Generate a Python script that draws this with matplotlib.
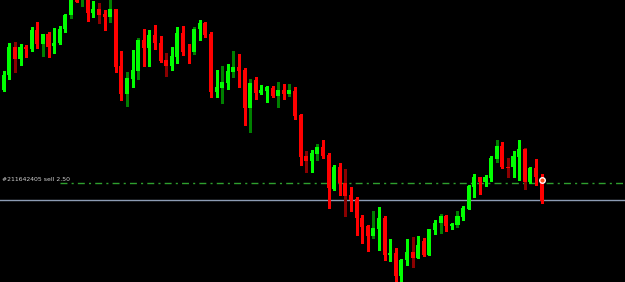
import numpy as np
import matplotlib
matplotlib.use("Agg")
import matplotlib.pyplot as plt

plt.rcParams["lines.scale_dashes"] = False

# candle values (price axis points down, like screen pixels)
opens = [90, 75, 47.3, 59, 47, 49, 30, 44, 34, 46, 43.3, 29.3, 15.3, -8, -3, -6, 12.7, 9, 14, 17.3,
         9, 65.7, 93.7, 79, 70.7, 40.3, 47.7, 35, 42.7, 60, 65.7, 56.7, 33.3, 51.5, 52.3, 29.3, 23, 34, 91.7, 87.7,
         83, 72, 67, 70.3, 107.7, 79.7, 93.3, 91, 88, 95.7, 90, 94, 90.7, 114.7, 156, 160.7, 154, 146.7, 155, 189,
         167.3, 183.3, 195, 199, 218.3, 226, 236, 229.3, 218.3, 255, 253, 276, 260, 252.3, 257.7, 241, 255, 230, 223.3, 215.7,
         226, 225, 216.7, 209, 186.7, 177.3, 181.7, 177.7, 159, 146, 167, 167.3, 156.7, 149, 181.7, 167.7, 177.7]
closes = [74.7, 47, 59.3, 47, 49, 30, 44, 33.7, 46.7, 42.7, 29, 15, -2, 1.7, -10, 12.7, 9, 15, 17.3, 9,
          66.7, 93.7, 78, 70, 40, 47.7, 35, 42.7, 61, 65.7, 56, 33.3, 52, 52, 29, 23.3, 35, 91.7, 87, 82.3,
          71, 67, 71, 107.7, 82.7, 93.3, 90, 87, 95.7, 90, 94, 90, 116, 156.7, 160.7, 153.3, 146.7, 155.7, 188.3, 167.3,
          183.3, 195.7, 200, 218.3, 226.7, 236, 227.7, 217.7, 255, 253, 276, 260, 252.3, 257.7, 245, 255, 229.3, 222.7, 215.7, 225.7,
          224, 216, 207.7, 185.7, 176.7, 181.7, 177.3, 158.3, 145.7, 167.3, 167.5, 156, 149, 181.7, 167.7, 177.3, 201]
highs = [71, 43, 42, 44, 45, 27.3, 22, 33.5, 32, 28, 26, 14, -5, -10, -12, -8, 1.3, 2.7, 10, -2,
         9, 51, 72, 50, 38.3, 28.7, 30, 25, 36, 53.3, 46.7, 27, 26, 44, 26.7, 20, 22, 31.7, 70.3, 66,
         64, 51, 54.3, 68, 79.3, 77.3, 85.3, 86, 86.3, 82, 84, 84, 86.7, 114, 151, 150, 144.3, 140, 153.3, 165,
         163.3, 169.3, 187.3, 197.3, 215, 225, 211, 206.7, 216, 239.3, 248.3, 259, 239.3, 237.3, 236, 238.3, 228.7, 220, 214.3, 215,
         223.3, 211, 206, 185, 174, 176.7, 175, 156, 140, 142.3, 158.3, 151, 140, 148, 167, 159, 174]
lows = [91, 79.3, 71.7, 65, 56.7, 50.7, 47.7, 56, 56.7, 53.3, 43.7, 31.7, 17.7, 2, 6, 20.7, 17.3, 23.3, 30, 21.7,
        72, 100, 106, 87.3, 79, 65.7, 65.7, 49, 62, 76, 70, 63.3, 55, 63.3, 54.3, 40, 36.7, 97.3, 96.7, 103.3,
        88.7, 76.7, 87.3, 125, 131.7, 99, 94.3, 102.3, 96.7, 106.7, 99.3, 96, 119.3, 165, 171.7, 172.3, 160, 157.7, 208.3, 190,
        195, 216, 211, 235, 242.7, 251, 237.7, 250, 260, 261, 282, 283, 265, 266.7, 258.3, 256, 255, 234, 232.7, 231,
        229, 226.7, 220, 209, 196.7, 194, 185.7, 180.7, 162.3, 167.7, 177.3, 177.3, 180, 189, 183, 185, 203.3]

# candles whose shadow shows in the darker colour
dark_wicks = [2, 7, 12, 14, 17, 19, 22, 24, 29, 34, 39, 41, 44, 49, 51, 54, 56, 61, 66, 73, 78, 81, 88, 90, 93]

order_label = "#211642405 sell 2.50"
order_price = 183.3
line_price = 200.2

o = np.array(opens)
c = np.array(closes)
h = np.array(highs)
l = np.array(lows)
x = np.arange(len(o))
up = c < o  # price axis is inverted

fig = plt.figure(figsize=(6.25, 2.82), dpi=100, facecolor="black")
ax = fig.add_axes([0, 0, 1, 1])
ax.set_facecolor("black")

wick_col = []
for i in x:
    if i in dark_wicks:
        wick_col.append("#008000" if up[i] else "#8b0000")
    else:
        wick_col.append("#00ff00" if up[i] else "#ff0000")

ax.vlines(x, h, l, colors=wick_col, linewidth=0.75, antialiased=False, zorder=2)

body_h = c - o
body_h = np.where(np.abs(body_h) < 0.8, 0.8, body_h)
ax.bar(x, body_h, bottom=o, width=0.72, color=np.where(up, "#00ff00", "#ff0000"),
       linewidth=0, zorder=3)

# order line and horizontal level
ax.axhline(order_price, xmin=60 / 625, xmax=1, color="#2ea02e", linewidth=1.0,
           dashes=(5, 3, 1.5, 3), zorder=1)
ax.axhline(line_price, color="#8c9cb4", linewidth=1.0, zorder=1)
ax.text(0.003, 181, order_label, color="#d0d0d0", fontsize=4.4,
        family=["Liberation Sans Narrow", "DejaVu Sans"], va="baseline", ha="left",
        transform=ax.get_yaxis_transform(), zorder=4)

ax.plot(x[-1], order_price - 3, marker="o", ms=4, mfc="#ff5020", mec="white", mew=1.0, zorder=5)

ax.set_xlim(-0.66, 110.9)
ax.set_ylim(282, 0)
ax.axis("off")

plt.savefig("out.png", dpi=100, facecolor="black")
